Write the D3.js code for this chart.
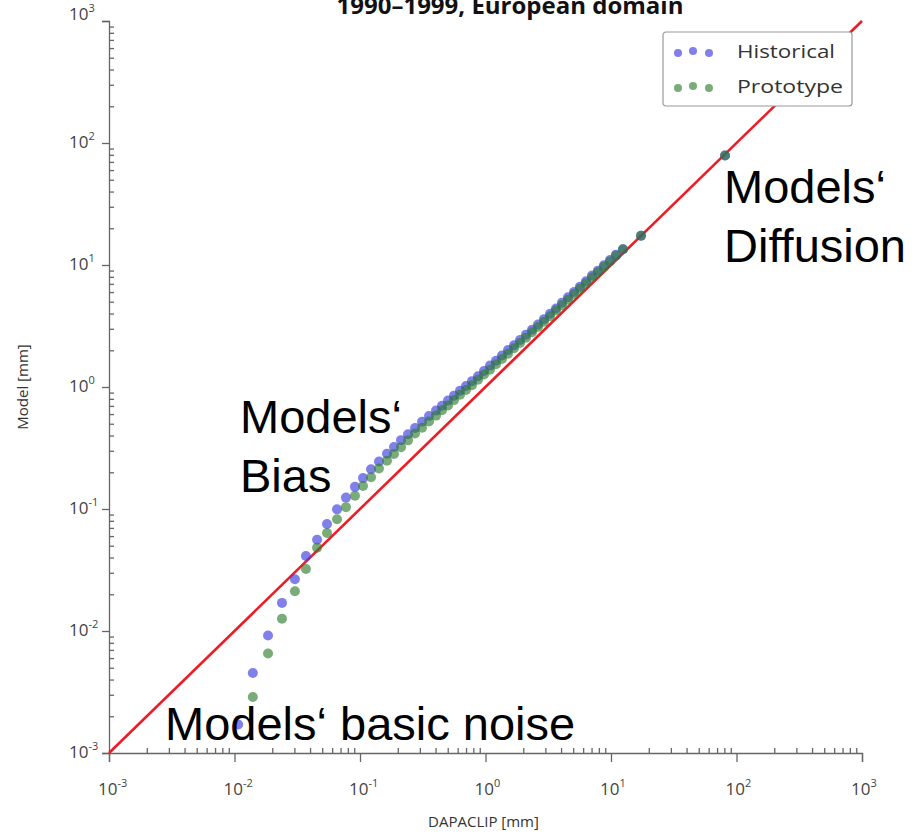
<!DOCTYPE html>
<html>
<head>
<meta charset="utf-8">
<script src="https://cdn.jsdelivr.net/npm/d3@7"></script>
<style>
  body { margin: 0; background: #fff; }
  svg { display: block; font-family: 'Open Sans', sans-serif; }
  .axis path, .axis line { stroke: #666; stroke-width: 1.3; }
  .tick-label { fill: #444; font-size: 17px; }
  .axis-title { fill: #333; font-size: 15px; }
  .note { font-family: 'Liberation Sans', Arial, sans-serif; font-size: 47px; fill: #000; }
</style>
</head>
<body>
<svg id="chart" width="912" height="834"></svg>
<script>
// observed (DAPACLIP) quantiles, mm
const obsQuantiles = [0.0107, 0.0140, 0.0185, 0.0239, 0.0303, 0.0371,
    0.0455, 0.0546, 0.0656, 0.0773, 0.0912, 0.1057, 0.1224, 0.1417, 0.1641, 0.1866,
    0.2122, 0.2413, 0.2744, 0.3120, 0.3547, 0.4033, 0.4501, 0.5026, 0.5611, 0.6262,
    0.6991, 0.7805, 0.8716, 0.9729, 1.086, 1.212, 1.353, 1.511, 1.687, 1.884,
    2.102, 2.347, 2.620, 2.925, 3.266, 3.645, 4.070, 4.544, 5.073, 5.662,
    6.321, 7.057, 7.877, 8.794, 9.818, 10.96,
    12.46, 17.34, 81.0];

// model quantiles, mm
const historical = [0.00171, 0.00453, 0.0092, 0.0170, 0.0266, 0.0412,
    0.0559, 0.0753, 0.0993, 0.1240, 0.1519, 0.1792, 0.2116, 0.2450, 0.2837, 0.3226,
    0.3668, 0.4093, 0.4611, 0.5194, 0.5793, 0.6404, 0.7014, 0.7759, 0.8497, 0.9307,
    1.020, 1.117, 1.225, 1.354, 1.497, 1.640, 1.813, 2.006, 2.197, 2.430,
    2.687, 2.944, 3.255, 3.600, 3.981, 4.403, 4.915, 5.436, 6.012, 6.648,
    7.352, 8.208, 8.988, 9.942, 10.99, 12.16,
    13.44, 17.34, 79.0];

const prototype = [null, 0.00288, 0.00655, 0.01258, 0.02116, 0.0322,
    0.0481, 0.0635, 0.0823, 0.1036, 0.1282, 0.1541, 0.1819, 0.2146, 0.2485, 0.2826,
    0.3214, 0.3654, 0.4155, 0.4637, 0.5222, 0.5828, 0.6444, 0.7061, 0.7808, 0.8632,
    0.9457, 1.036, 1.146, 1.267, 1.388, 1.536, 1.698, 1.877, 2.076, 2.296,
    2.539, 2.808, 3.105, 3.434, 3.798, 4.240, 4.689, 5.184, 5.788, 6.401,
    7.078, 7.903, 8.738, 9.665, 10.69, 11.93,
    13.44, 17.34, 79.0];

const seriesNames = ['Historical', 'Prototype'];
const seriesColors = ['rgba(62, 62, 225, 0.66)', 'rgba(45, 125, 45, 0.64)'];

const majorTicks = [1e-3, 1e-2, 1e-1, 1e0, 1e1, 1e2, 1e3];
const exponents = ['-3', '-2', '-1', '0', '1', '2', '3'];

const notes = [
    {lines: ['Models\u2018', 'Diffusion'], x: 724, y: 203},
    {lines: ['Models\u2018', 'Bias'], x: 240, y: 433},
    {lines: ['Models\u2018 basic noise'], x: 165, y: 740},
];

const margin = {top: 21, right: 50, bottom: 81, left: 109};
const fullWidth = 912;
const fullHeight = 834;
const width = fullWidth - margin.left - margin.right;
const height = fullHeight - margin.top - margin.bottom;

const minorTicks = [];
majorTicks.slice(0, -1).forEach((m) => {
    d3.range(2, 10).forEach((k) => minorTicks.push(m * k));
});

const xScale = d3.scaleLog()
    .domain([1e-3, 1e3])
    .range([0, width]);

const yScale = d3.scaleLog()
    .domain([1e-3, 1e3])
    .range([height, 0]);

const svg = d3.select('#chart');

// title, cut at the top edge in the original
svg.append('text')
    .attr('x', 510)
    .attr('y', 14)
    .attr('text-anchor', 'middle')
    .style('font-size', '24px')
    .style('font-weight', 'bold')
    .style('fill', '#111')
    .text('1990\u20131999, European domain');

const g = svg.append('g')
    .attr('transform', `translate(${margin.left}, ${margin.top})`);

// axes: major ticks outside, minor ticks inside
const gX = g.append('g').attr('class', 'axis axis--x')
    .attr('transform', `translate(0, ${height})`);
gX.call(d3.axisBottom(xScale).tickValues(majorTicks).tickSize(9).tickFormat(''));
gX.append('g')
    .call(d3.axisBottom(xScale).tickValues(minorTicks).tickSize(-5).tickFormat(''))
    .select('.domain').remove();

const gY = g.append('g').attr('class', 'axis axis--y');
gY.call(d3.axisLeft(yScale).tickValues(majorTicks).tickSize(7).tickFormat(''));
gY.append('g')
    .call(d3.axisLeft(yScale).tickValues(minorTicks).tickSize(-5).tickFormat(''))
    .select('.domain').remove();

// tick labels as 10 with superscript exponent
function tickLabel(sel, i) {
    sel.append('tspan').text('10');
    sel.append('tspan')
        .attr('dy', -8)
        .style('font-size', '11px')
        .text(exponents[i]);
}

majorTicks.forEach((v, i) => {
    g.append('text')
        .attr('class', 'tick-label')
        .attr('x', xScale(v) - 11)
        .attr('y', height + 42)
        .call(tickLabel, i);
    g.append('text')
        .attr('class', 'tick-label')
        .attr('x', -40)
        .attr('y', yScale(v) + (i === 6 ? -1 : 5))
        .call(tickLabel, i);
});

svg.append('text')
    .attr('class', 'axis-title')
    .attr('x', margin.left + width / 2 - 2)
    .attr('y', 827)
    .attr('text-anchor', 'middle')
    .text('DAPACLIP [mm]');

svg.append('text')
    .attr('class', 'axis-title')
    .attr('transform', `translate(28, ${margin.top + height / 2}) rotate(-90)`)
    .attr('text-anchor', 'middle')
    .text('Model [mm]');

// 1:1 line
g.append('line')
    .attr('x1', xScale(1e-3))
    .attr('y1', yScale(1e-3))
    .attr('x2', xScale(1e3))
    .attr('y2', yScale(1e3))
    .style('stroke', '#ee1c25')
    .style('stroke-width', 2.6);

// quantile points
const modelSeries = [historical, prototype];
modelSeries.forEach((values, s) => {
    const pts = obsQuantiles
        .map((o, i) => ({o, m: values[i]}))
        .filter((d) => d.m !== null);
    g.append('g')
        .attr('class', `series series--${seriesNames[s].toLowerCase()}`)
        .selectAll('circle')
        .data(pts)
        .enter().append('circle')
        .attr('cx', (d) => xScale(d.o))
        .attr('cy', (d) => yScale(d.m))
        .attr('r', 5)
        .style('fill', seriesColors[s]);
});

// legend
const legend = svg.append('g')
    .attr('transform', 'translate(663, 32)');
legend.append('rect')
    .attr('width', 189)
    .attr('height', 74)
    .attr('rx', 3)
    .style('fill', '#fff')
    .style('stroke', '#999')
    .style('stroke-width', 1.2);

const legendDots = [[15, 21], [30, 19], [46, 21]];
const legendTextWidths = [98, 106];
seriesNames.forEach((name, s) => {
    const row = legend.append('g')
        .attr('transform', `translate(0, ${s * 35})`);
    row.selectAll('circle')
        .data(legendDots)
        .enter().append('circle')
        .attr('cx', (d) => d[0])
        .attr('cy', (d) => d[1])
        .attr('r', 4)
        .style('fill', seriesColors[s]);
    row.append('text')
        .attr('x', 74)
        .attr('y', 26)
        .attr('textLength', legendTextWidths[s])
        .attr('lengthAdjust', 'spacingAndGlyphs')
        .style('font-size', '18px')
        .style('fill', '#333')
        .text(name);
});

// annotations
notes.forEach((n) => {
    const t = svg.append('text')
        .attr('class', 'note')
        .attr('x', n.x)
        .attr('y', n.y);
    n.lines.forEach((line, i) => {
        t.append('tspan')
            .attr('x', n.x)
            .attr('dy', i === 0 ? 0 : 59)
            .text(line);
    });
});
</script>
</body>
</html>
